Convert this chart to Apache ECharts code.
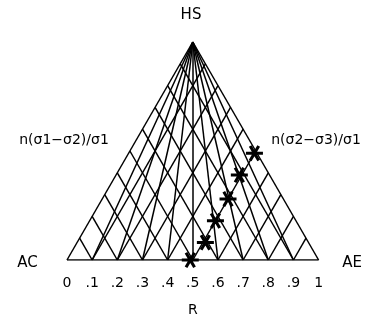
<!DOCTYPE html>
<html>
<head>
<meta charset="utf-8">
<script src="https://cdn.jsdelivr.net/npm/echarts@6/dist/echarts.min.js"></script>
<style>
  html, body { margin: 0; padding: 0; background: #fff; }
  #chart { width: 369px; height: 324px; }
</style>
</head>
<body>
<div id="chart"></div>
<script>
// Stress-ratio triangle: base is R from 0 (AC) to 1 (AE), apex is HS.
// Positions inside are (u, h): u along the base, h as a fraction of the height.

// Base tick values and their printed labels
const rTicks = [0, 0.1, 0.2, 0.3, 0.4, 0.5, 0.6, 0.7, 0.8, 0.9, 1];
const rLabels = ['0', '.1', '.2', '.3', '.4', '.5', '.6', '.7', '.8', '.9', '1'];

// Measured points, given by the base intercepts of the two grid lines through them:
// leftSet  = line parallel to side AC–HS, rightSet = line parallel to side AE–HS
const leftSet  = [0.49, 0.51, 0.50, 0.50, 0.49, 0.50];
const rightSet = [0.49, 0.59, 0.68, 0.78, 0.88, 0.99];

const FONT = 'DejaVu Sans';

// grid-line segments in (u, h)
const segs = [];
// triangle outline
segs.push([[0, 0], [1, 0]], [[0, 0], [0.5, 1]], [[1, 0], [0.5, 1]]);
rTicks.forEach(function (t) {
  if (t <= 0 || t >= 1) return;
  segs.push([[t, 0], [(1 + t) / 2, 1 - t]]);   // parallel to the left side
  segs.push([[t, 0], [t / 2, t]]);             // parallel to the right side
  segs.push([[t, 0], [0.5, 1]]);               // constant-R ray from HS
});

const points = leftSet.map(function (p, i) {
  const q = rightSet[i];
  return [(p + q) / 2, q - p];
});

// six-armed asterisk: horizontal bar plus two bars at ±60°
function asteriskPath() {
  const L = 10, w = 1.8;
  let d = '';
  [0, 60, 120].forEach(function (deg) {
    const a = deg * Math.PI / 180, c = Math.cos(a), s = Math.sin(a);
    const pts = [[-L, -w], [L, -w], [L, w], [-L, w]].map(function (pt) {
      return [(pt[0] * c - pt[1] * s).toFixed(3), (pt[0] * s + pt[1] * c).toFixed(3)];
    });
    d += 'M' + pts[0].join(' ') + 'L' + pts[1].join(' ') + 'L' + pts[2].join(' ') + 'L' + pts[3].join(' ') + 'Z';
  });
  return 'path://' + d;
}

const chart = echarts.init(document.getElementById('chart'), null, { renderer: 'canvas' });

const textStyle = { fill: '#000', font: '14px "' + FONT + '"', textAlign: 'center', textVerticalAlign: 'middle' };
const bigText = Object.assign({}, textStyle, { font: '15px "' + FONT + '"' });

chart.setOption({
  animation: false,
  backgroundColor: '#fff',
  grid: { left: 67, top: 42, width: 251.6, height: 218 },
  xAxis: {
    type: 'value', min: 0, max: 1, interval: 0.1,
    axisLine: { show: false }, axisTick: { show: false }, splitLine: { show: false },
    axisLabel: {
      margin: 16, color: '#000', fontFamily: FONT, fontSize: 14,
      formatter: function (v) {
        const i = rTicks.findIndex(function (t) { return Math.abs(t - v) < 1e-6; });
        return i >= 0 ? rLabels[i] : '';
      }
    },
    name: 'R', nameLocation: 'middle', nameGap: 43,
    nameTextStyle: { color: '#000', fontFamily: FONT, fontSize: 14 }
  },
  yAxis: { type: 'value', min: 0, max: 1, show: false },
  series: [
    {
      type: 'lines', coordinateSystem: 'cartesian2d', silent: true,
      lineStyle: { color: '#000', width: 1.5, opacity: 1 },
      data: segs.map(function (s) { return { coords: s }; })
    },
    {
      type: 'scatter', silent: true, z: 5,
      symbol: asteriskPath(), symbolSize: [17, 16],
      itemStyle: { color: '#000', opacity: 1 },
      data: points
    }
  ],
  graphic: [
    { type: 'text', x: 191, y: 15, style: Object.assign({ text: 'HS' }, bigText) },
    { type: 'text', x: 27.5, y: 263.5, style: Object.assign({ text: 'AC' }, bigText) },
    { type: 'text', x: 352, y: 263.5, style: Object.assign({ text: 'AE' }, bigText) },
    { type: 'text', x: 64, y: 140, style: Object.assign({ text: 'n(σ1−σ2)/σ1' }, textStyle) },
    { type: 'text', x: 316, y: 140, style: Object.assign({ text: 'n(σ2−σ3)/σ1' }, textStyle) }
  ]
});
</script>
</body>
</html>
